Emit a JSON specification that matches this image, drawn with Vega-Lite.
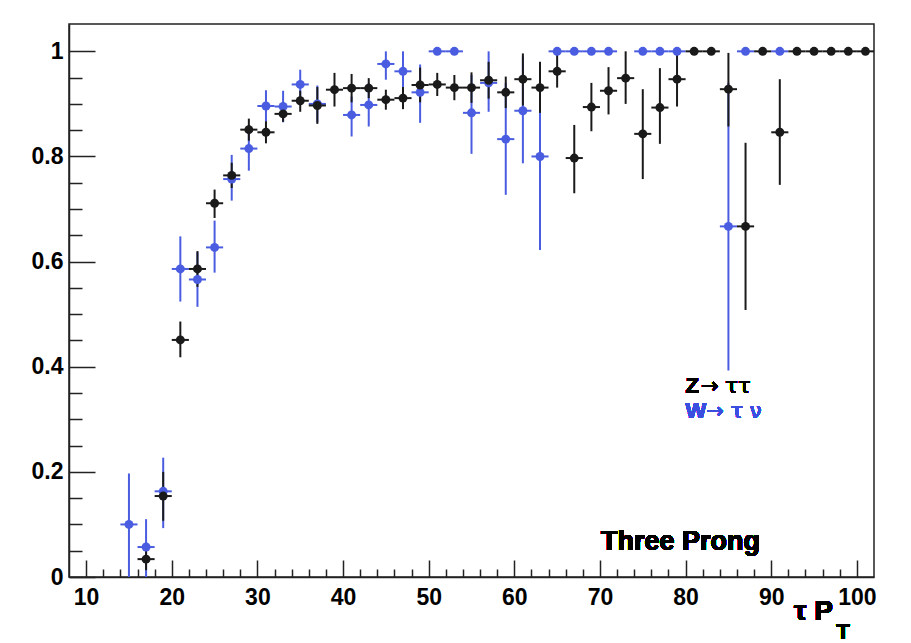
{
  "$schema": "https://vega.github.io/schema/vega-lite/v6.json",
  "width": 805,
  "height": 553,
  "autosize": "none",
  "padding": {"left": 69, "top": 24, "right": 37, "bottom": 66},
  "background": "white",
  "config": {
    "view": {"stroke": "#222222", "strokeWidth": 1.5},
    "font": "Liberation Sans",
    "axis": {
      "domainColor": "#222222",
      "domainWidth": 1.5,
      "tickColor": "#222222",
      "tickWidth": 1.5,
      "grid": false,
      "labelFont": "Liberation Sans",
      "labelFontWeight": "bold",
      "labelFontSize": 23,
      "labelColor": "#000000",
      "labelFlush": false,
      "labelOverlap": false,
      "zindex": 1,
      "title": null
    }
  },
  "resolve": {"axis": {"x": "independent", "y": "independent"}},
  "data": {
    "values": [
      {"sample": "W→τν", "pt": 15, "ptLo": 14, "ptHi": 16, "eff": 0.100, "lo": 0.000, "hi": 0.197},
      {"sample": "W→τν", "pt": 17, "ptLo": 16, "ptHi": 18, "eff": 0.057, "lo": 0.000, "hi": 0.110},
      {"sample": "W→τν", "pt": 19, "ptLo": 18, "ptHi": 20, "eff": 0.163, "lo": 0.093, "hi": 0.227},
      {"sample": "W→τν", "pt": 21, "ptLo": 20, "ptHi": 22, "eff": 0.586, "lo": 0.524, "hi": 0.648},
      {"sample": "W→τν", "pt": 23, "ptLo": 22, "ptHi": 24, "eff": 0.566, "lo": 0.514, "hi": 0.618},
      {"sample": "W→τν", "pt": 25, "ptLo": 24, "ptHi": 26, "eff": 0.627, "lo": 0.579, "hi": 0.678},
      {"sample": "W→τν", "pt": 27, "ptLo": 26, "ptHi": 28, "eff": 0.757, "lo": 0.716, "hi": 0.803},
      {"sample": "W→τν", "pt": 29, "ptLo": 28, "ptHi": 30, "eff": 0.815, "lo": 0.773, "hi": 0.860},
      {"sample": "W→τν", "pt": 31, "ptLo": 30, "ptHi": 32, "eff": 0.896, "lo": 0.866, "hi": 0.926},
      {"sample": "W→τν", "pt": 33, "ptLo": 32, "ptHi": 34, "eff": 0.895, "lo": 0.865, "hi": 0.925},
      {"sample": "W→τν", "pt": 35, "ptLo": 34, "ptHi": 36, "eff": 0.937, "lo": 0.909, "hi": 0.965},
      {"sample": "W→τν", "pt": 37, "ptLo": 36, "ptHi": 38, "eff": 0.900, "lo": 0.865, "hi": 0.935},
      {"sample": "W→τν", "pt": 41, "ptLo": 40, "ptHi": 42, "eff": 0.879, "lo": 0.838, "hi": 0.914},
      {"sample": "W→τν", "pt": 43, "ptLo": 42, "ptHi": 44, "eff": 0.898, "lo": 0.857, "hi": 0.940},
      {"sample": "W→τν", "pt": 45, "ptLo": 44, "ptHi": 46, "eff": 0.976, "lo": 0.946, "hi": 1.000},
      {"sample": "W→τν", "pt": 47, "ptLo": 46, "ptHi": 48, "eff": 0.962, "lo": 0.924, "hi": 1.000},
      {"sample": "W→τν", "pt": 49, "ptLo": 48, "ptHi": 50, "eff": 0.922, "lo": 0.864, "hi": 0.975},
      {"sample": "W→τν", "pt": 51, "ptLo": 50, "ptHi": 52, "eff": 1.000, "lo": 1.000, "hi": 1.000},
      {"sample": "W→τν", "pt": 53, "ptLo": 52, "ptHi": 54, "eff": 1.000, "lo": 1.000, "hi": 1.000},
      {"sample": "W→τν", "pt": 55, "ptLo": 54, "ptHi": 56, "eff": 0.883, "lo": 0.805, "hi": 0.955},
      {"sample": "W→τν", "pt": 57, "ptLo": 56, "ptHi": 58, "eff": 0.940, "lo": 0.885, "hi": 1.000},
      {"sample": "W→τν", "pt": 59, "ptLo": 58, "ptHi": 60, "eff": 0.833, "lo": 0.727, "hi": 0.940},
      {"sample": "W→τν", "pt": 61, "ptLo": 60, "ptHi": 62, "eff": 0.887, "lo": 0.787, "hi": 0.990},
      {"sample": "W→τν", "pt": 63, "ptLo": 62, "ptHi": 64, "eff": 0.800, "lo": 0.622, "hi": 0.980},
      {"sample": "W→τν", "pt": 65, "ptLo": 64, "ptHi": 66, "eff": 1.000, "lo": 1.000, "hi": 1.000},
      {"sample": "W→τν", "pt": 67, "ptLo": 66, "ptHi": 68, "eff": 1.000, "lo": 1.000, "hi": 1.000},
      {"sample": "W→τν", "pt": 69, "ptLo": 68, "ptHi": 70, "eff": 1.000, "lo": 1.000, "hi": 1.000},
      {"sample": "W→τν", "pt": 71, "ptLo": 70, "ptHi": 72, "eff": 1.000, "lo": 1.000, "hi": 1.000},
      {"sample": "W→τν", "pt": 75, "ptLo": 74, "ptHi": 76, "eff": 1.000, "lo": 1.000, "hi": 1.000},
      {"sample": "W→τν", "pt": 77, "ptLo": 76, "ptHi": 78, "eff": 1.000, "lo": 1.000, "hi": 1.000},
      {"sample": "W→τν", "pt": 79, "ptLo": 78, "ptHi": 80, "eff": 1.000, "lo": 1.000, "hi": 1.000},
      {"sample": "W→τν", "pt": 85, "ptLo": 84, "ptHi": 86, "eff": 0.667, "lo": 0.393, "hi": 0.940},
      {"sample": "W→τν", "pt": 87, "ptLo": 86, "ptHi": 88, "eff": 1.000, "lo": 1.000, "hi": 1.000},
      {"sample": "W→τν", "pt": 91, "ptLo": 90, "ptHi": 92, "eff": 1.000, "lo": 1.000, "hi": 1.000},
      {"sample": "Z→ττ", "pt": 17, "ptLo": 16, "ptHi": 18, "eff": 0.034, "lo": 0.013, "hi": 0.055},
      {"sample": "Z→ττ", "pt": 19, "ptLo": 18, "ptHi": 20, "eff": 0.154, "lo": 0.107, "hi": 0.200},
      {"sample": "Z→ττ", "pt": 21, "ptLo": 20, "ptHi": 22, "eff": 0.451, "lo": 0.418, "hi": 0.486},
      {"sample": "Z→ττ", "pt": 23, "ptLo": 22, "ptHi": 24, "eff": 0.586, "lo": 0.552, "hi": 0.620},
      {"sample": "Z→ττ", "pt": 25, "ptLo": 24, "ptHi": 26, "eff": 0.711, "lo": 0.683, "hi": 0.737},
      {"sample": "Z→ττ", "pt": 27, "ptLo": 26, "ptHi": 28, "eff": 0.764, "lo": 0.740, "hi": 0.788},
      {"sample": "Z→ττ", "pt": 29, "ptLo": 28, "ptHi": 30, "eff": 0.851, "lo": 0.830, "hi": 0.872},
      {"sample": "Z→ττ", "pt": 31, "ptLo": 30, "ptHi": 32, "eff": 0.846, "lo": 0.825, "hi": 0.867},
      {"sample": "Z→ττ", "pt": 33, "ptLo": 32, "ptHi": 34, "eff": 0.881, "lo": 0.866, "hi": 0.896},
      {"sample": "Z→ττ", "pt": 35, "ptLo": 34, "ptHi": 36, "eff": 0.906, "lo": 0.885, "hi": 0.925},
      {"sample": "Z→ττ", "pt": 37, "ptLo": 36, "ptHi": 38, "eff": 0.897, "lo": 0.862, "hi": 0.932},
      {"sample": "Z→ττ", "pt": 39, "ptLo": 38, "ptHi": 40, "eff": 0.927, "lo": 0.895, "hi": 0.959},
      {"sample": "Z→ττ", "pt": 41, "ptLo": 40, "ptHi": 42, "eff": 0.930, "lo": 0.903, "hi": 0.957},
      {"sample": "Z→ττ", "pt": 43, "ptLo": 42, "ptHi": 44, "eff": 0.930, "lo": 0.911, "hi": 0.949},
      {"sample": "Z→ττ", "pt": 45, "ptLo": 44, "ptHi": 46, "eff": 0.908, "lo": 0.889, "hi": 0.927},
      {"sample": "Z→ττ", "pt": 47, "ptLo": 46, "ptHi": 48, "eff": 0.911, "lo": 0.890, "hi": 0.932},
      {"sample": "Z→ττ", "pt": 49, "ptLo": 48, "ptHi": 50, "eff": 0.936, "lo": 0.903, "hi": 0.969},
      {"sample": "Z→ττ", "pt": 51, "ptLo": 50, "ptHi": 52, "eff": 0.937, "lo": 0.915, "hi": 0.959},
      {"sample": "Z→ττ", "pt": 53, "ptLo": 52, "ptHi": 54, "eff": 0.931, "lo": 0.907, "hi": 0.955},
      {"sample": "Z→ττ", "pt": 55, "ptLo": 54, "ptHi": 56, "eff": 0.931, "lo": 0.902, "hi": 0.960},
      {"sample": "Z→ττ", "pt": 57, "ptLo": 56, "ptHi": 58, "eff": 0.945, "lo": 0.910, "hi": 0.980},
      {"sample": "Z→ττ", "pt": 59, "ptLo": 58, "ptHi": 60, "eff": 0.922, "lo": 0.892, "hi": 0.952},
      {"sample": "Z→ττ", "pt": 61, "ptLo": 60, "ptHi": 62, "eff": 0.947, "lo": 0.897, "hi": 0.996},
      {"sample": "Z→ττ", "pt": 63, "ptLo": 62, "ptHi": 64, "eff": 0.931, "lo": 0.883, "hi": 0.980},
      {"sample": "Z→ττ", "pt": 65, "ptLo": 64, "ptHi": 66, "eff": 0.962, "lo": 0.931, "hi": 0.993},
      {"sample": "Z→ττ", "pt": 67, "ptLo": 66, "ptHi": 68, "eff": 0.797, "lo": 0.730, "hi": 0.860},
      {"sample": "Z→ττ", "pt": 69, "ptLo": 68, "ptHi": 70, "eff": 0.894, "lo": 0.848, "hi": 0.940},
      {"sample": "Z→ττ", "pt": 71, "ptLo": 70, "ptHi": 72, "eff": 0.925, "lo": 0.880, "hi": 0.970},
      {"sample": "Z→ττ", "pt": 73, "ptLo": 72, "ptHi": 74, "eff": 0.949, "lo": 0.900, "hi": 1.000},
      {"sample": "Z→ττ", "pt": 75, "ptLo": 74, "ptHi": 76, "eff": 0.843, "lo": 0.757, "hi": 0.928},
      {"sample": "Z→ττ", "pt": 77, "ptLo": 76, "ptHi": 78, "eff": 0.893, "lo": 0.824, "hi": 0.968},
      {"sample": "Z→ττ", "pt": 79, "ptLo": 78, "ptHi": 80, "eff": 0.947, "lo": 0.895, "hi": 1.000},
      {"sample": "Z→ττ", "pt": 81, "ptLo": 80, "ptHi": 82, "eff": 1.000, "lo": 1.000, "hi": 1.000},
      {"sample": "Z→ττ", "pt": 83, "ptLo": 82, "ptHi": 84, "eff": 1.000, "lo": 1.000, "hi": 1.000},
      {"sample": "Z→ττ", "pt": 85, "ptLo": 84, "ptHi": 86, "eff": 0.928, "lo": 0.857, "hi": 0.997},
      {"sample": "Z→ττ", "pt": 87, "ptLo": 86, "ptHi": 88, "eff": 0.667, "lo": 0.508, "hi": 0.826},
      {"sample": "Z→ττ", "pt": 89, "ptLo": 88, "ptHi": 90, "eff": 1.000, "lo": 1.000, "hi": 1.000},
      {"sample": "Z→ττ", "pt": 91, "ptLo": 90, "ptHi": 92, "eff": 0.846, "lo": 0.746, "hi": 0.947},
      {"sample": "Z→ττ", "pt": 93, "ptLo": 92, "ptHi": 94, "eff": 1.000, "lo": 1.000, "hi": 1.000},
      {"sample": "Z→ττ", "pt": 95, "ptLo": 94, "ptHi": 96, "eff": 1.000, "lo": 1.000, "hi": 1.000},
      {"sample": "Z→ττ", "pt": 97, "ptLo": 96, "ptHi": 98, "eff": 1.000, "lo": 1.000, "hi": 1.000},
      {"sample": "Z→ττ", "pt": 99, "ptLo": 98, "ptHi": 100, "eff": 1.000, "lo": 1.000, "hi": 1.000},
      {"sample": "Z→ττ", "pt": 101, "ptLo": 100, "ptHi": 102, "eff": 1.000, "lo": 1.000, "hi": 1.000}
    ]
  },
  "layer": [
    {
      "mark": {"type": "rule", "strokeWidth": 2},
      "encoding": {
        "x": {
          "field": "pt",
          "type": "quantitative",
          "scale": {"domain": [8, 102], "nice": false, "zero": false},
          "axis": {
            "orient": "bottom",
            "values": [10, 20, 30, 40, 50, 60, 70, 80, 90, 100],
            "ticks": false,
            "tickSize": 0,
            "labelPadding": 9
          }
        },
        "y": {
          "field": "lo",
          "type": "quantitative",
          "scale": {"domain": [0, 1.052], "nice": false, "zero": false},
          "axis": {
            "orient": "left",
            "values": [0, 0.2, 0.4, 0.6, 0.8, 1],
            "format": "~g",
            "ticks": false,
            "tickSize": 0,
            "labelPadding": 6
          }
        },
        "y2": {"field": "hi"},
        "color": {
          "field": "sample",
          "type": "nominal",
          "scale": {"domain": ["Z→ττ", "W→τν"], "range": ["#1a1a1a", "#4a5de0"]},
          "legend": null
        }
      }
    },
    {
      "mark": {"type": "rule", "strokeWidth": 2},
      "encoding": {
        "x": {
          "field": "ptLo",
          "type": "quantitative",
          "axis": {
            "orient": "top",
            "offset": -553,
            "values": [10, 20, 30, 40, 50, 60, 70, 80, 90, 100],
            "tickSize": 17,
            "labels": false,
            "domain": false
          }
        },
        "x2": {"field": "ptHi"},
        "y": {
          "field": "eff",
          "type": "quantitative",
          "axis": {
            "orient": "right",
            "offset": -805,
            "values": [0, 0.2, 0.4, 0.6, 0.8, 1],
            "tickSize": 26,
            "labels": false,
            "domain": false
          }
        },
        "color": {"field": "sample", "type": "nominal", "legend": null}
      }
    },
    {
      "mark": {"type": "point", "filled": true, "shape": "circle", "size": 80, "opacity": 1},
      "encoding": {
        "x": {
          "field": "pt",
          "type": "quantitative",
          "axis": {
            "orient": "top",
            "offset": -553,
            "values": [12, 14, 16, 18, 22, 24, 26, 28, 32, 34, 36, 38, 42, 44, 46, 48, 52, 54, 56, 58, 62, 64, 66, 68, 72, 74, 76, 78, 82, 84, 86, 88, 92, 94, 96, 98],
            "tickSize": 8,
            "labels": false,
            "domain": false
          }
        },
        "y": {
          "field": "eff",
          "type": "quantitative",
          "axis": {
            "orient": "right",
            "offset": -805,
            "values": [0.05, 0.1, 0.15, 0.25, 0.3, 0.35, 0.45, 0.5, 0.55, 0.65, 0.7, 0.75, 0.85, 0.9, 0.95],
            "tickSize": 13,
            "labels": false,
            "domain": false
          }
        },
        "color": {
          "field": "sample",
          "type": "nominal",
          "scale": {"domain": ["Z→ττ", "W→τν"], "range": ["#000000", "#3a4fe0"]},
          "legend": null
        }
      }
    },
    {
      "mark": {"type": "text", "align": "left", "baseline": "alphabetic", "fontSize": 22, "fontWeight": "bold", "color": "#000000"},
      "encoding": {"x": {"datum": 80, "axis": null}, "y": {"datum": 0.35, "axis": null}, "text": {"value": "Z"}}
    },
    {
      "mark": {"type": "text", "align": "left", "baseline": "alphabetic", "fontSize": 21, "font": "DejaVu Sans", "color": "#000000"},
      "encoding": {"x": {"datum": 81.8, "axis": null}, "y": {"datum": 0.35, "axis": null}, "text": {"value": "→ ττ"}}
    },
    {
      "mark": {"type": "text", "align": "left", "baseline": "alphabetic", "fontSize": 22, "fontWeight": "bold", "color": "#3a4fe0"},
      "encoding": {"x": {"datum": 80, "axis": null}, "y": {"datum": 0.302, "axis": null}, "text": {"value": "W"}}
    },
    {
      "mark": {"type": "text", "align": "left", "baseline": "alphabetic", "fontSize": 21, "font": "DejaVu Sans", "color": "#3a4fe0"},
      "encoding": {"x": {"datum": 82.4, "axis": null}, "y": {"datum": 0.302, "axis": null}, "text": {"value": "→ τ ν"}}
    },
    {
      "mark": {"type": "text", "align": "right", "baseline": "alphabetic", "fontSize": 27, "fontWeight": "bold", "color": "#000000"},
      "encoding": {"x": {"datum": 88.7, "axis": null}, "y": {"datum": 0.052, "axis": null}, "text": {"value": "Three Prong"}}
    },
    {
      "mark": {"type": "text", "align": "right", "baseline": "alphabetic", "fontSize": 28, "fontWeight": "bold", "color": "#000000"},
      "encoding": {"x": {"datum": 97.2, "axis": null}, "y": {"datum": -0.0825, "axis": null}, "text": {"value": "τ P"}}
    },
    {
      "mark": {"type": "text", "align": "left", "baseline": "alphabetic", "fontSize": 22, "fontWeight": "bold", "color": "#000000"},
      "encoding": {"x": {"datum": 97.6, "axis": null}, "y": {"datum": -0.117, "axis": null}, "text": {"value": "T"}}
    }
  ]
}
